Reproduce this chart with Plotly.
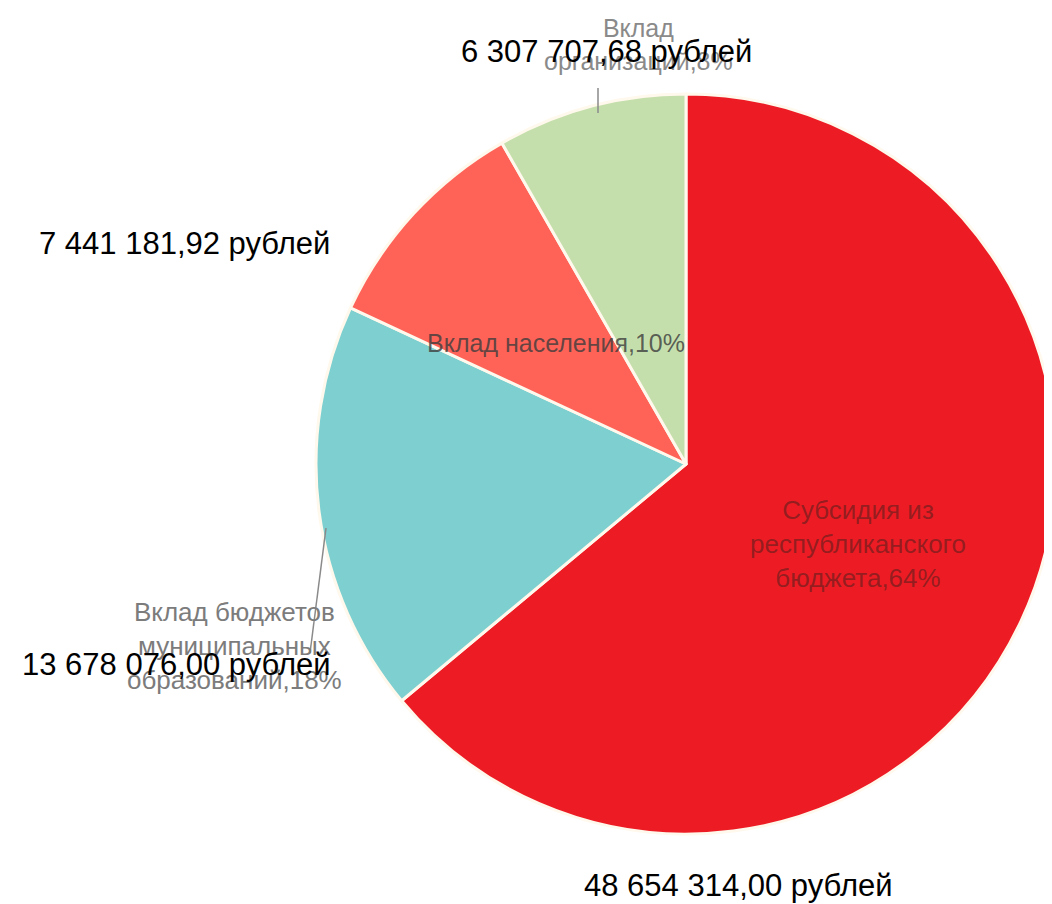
import plotly.graph_objects as go

# источники финансирования
labels = [
    "Субсидия из<br>республиканского<br>бюджета,64%",
    "Вклад бюджетов<br>муниципальных<br>образований,18%",
    "Вклад населения,10%",
    "Вклад<br>организаций,8%",
]
values = [48654314.00, 13678076.00, 7441181.92, 6307707.68]
sums = ["48 654 314,00 рублей", "13 678 076,00 рублей",
        "7 441 181,92 рублей", "6 307 707,68 рублей"]
colors = ["#ED1C24", "#7ECFCF", "#FF6358", "#C5DFAC"]

W, H = 1052, 904

fig = go.Figure(go.Pie(
    values=values,
    labels=labels,
    sort=False,
    direction="clockwise",
    rotation=0,
    textinfo="none",
    hoverinfo="label+value",
    marker=dict(colors=colors, line=dict(color="#FFF8EC", width=3)),
    domain=dict(x=[304 / W, 1.0], y=[1 - 826 / H, 1 - 86 / H]),
    showlegend=False,
))

fam = "Liberation Sans, Arial, sans-serif"

# подписи категорий (серые)
cat_pos = [(850, 536, "rgba(110,30,30,0.7)", 26), (226, 638, "#7c7c7c", 26),
           (548, 335, "rgba(60,60,60,0.8)", 25), (630, 37, "#8a8a8a", 25)]
for lab, (x, y, c, s) in zip(labels, cat_pos):
    fig.add_annotation(x=x / W, y=1 - y / H, xref="paper", yref="paper",
                       xanchor="center", yanchor="middle",
                       text=lab, showarrow=False, align="center",
                       font=dict(family=fam, size=s, color=c))

# соединительные линии
fig.add_shape(type="line", xref="paper", yref="paper",
              x0=590 / W, y0=1 - 80 / H, x1=590 / W, y1=1 - 105 / H,
              line=dict(color="#8a8a8a", width=1.5))
fig.add_shape(type="line", xref="paper", yref="paper",
              x0=318 / W, y0=1 - 520 / H, x1=302 / W, y1=1 - 645 / H,
              line=dict(color="#8a8a8a", width=1.5))

# суммы (чёрные)
sum_pos = [(730, 877), (168, 656), (176, 235), (598, 43)]
for s, (x, y) in zip(sums, sum_pos):
    fig.add_annotation(x=x / W, y=1 - y / H, xref="paper", yref="paper",
                       xanchor="center", yanchor="middle",
                       text=s, showarrow=False,
                       font=dict(family=fam, size=31, color="#000000"))

fig.update_layout(width=W, height=H, margin=dict(l=0, r=0, t=0, b=0),
                  paper_bgcolor="white", plot_bgcolor="white")

fig.write_html("out.html")
